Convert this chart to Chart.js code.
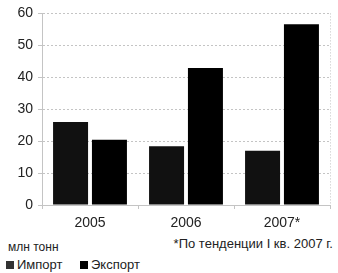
<!DOCTYPE html>
<html>
<head>
<meta charset="utf-8">
<script src="https://cdn.jsdelivr.net/npm/chart.js@4"></script>
<style>
  body { margin: 0; background: #fff; }
  #wrap { position: relative; width: 338px; height: 273px; font-family: "Liberation Sans Narrow", "Liberation Sans", Arial, sans-serif; color: #222; }
  #chart { position: absolute; left: 0; top: 0; }
  .t { position: absolute; white-space: nowrap; }
  .sq { display: inline-block; width: 8px; height: 8px; margin-right: 3px; vertical-align: 0px; }
</style>
</head>
<body>
<div id="wrap">
  <canvas id="chart" width="338" height="232"></canvas>
  <div class="t" style="left:8px; top:240px; font-size:12px;">млн тонн</div>
  <div class="t" style="right:5px; top:236px; font-size:13px;">*По тенденции I кв. 2007 г.</div>
  <div class="t" style="left:6px; top:257px; font-size:13px;"><span class="sq" style="background:#333"></span>Импорт</div>
  <div class="t" style="left:80px; top:257px; font-size:13px;"><span class="sq" style="background:#000"></span>Экспорт</div>
</div>
<script>
const years = ['2005', '2006', '2007*'];
const importVals = [26, 18.4, 17];
const exportVals = [20.4, 42.9, 56.6];
const yTicks = [0, 10, 20, 30, 40, 50, 60];

// dotted right edge of the plot area
const rightEdge = {
  id: 'rightEdge',
  afterDraw(chart) {
    const a = chart.chartArea, c = chart.ctx;
    c.save();
    c.strokeStyle = '#c4c4c4';
    c.setLineDash([1, 2]);
    c.beginPath();
    c.moveTo(a.right + 0.5, a.top);
    c.lineTo(a.right + 0.5, a.bottom);
    c.stroke();
    c.restore();
  }
};

new Chart(document.getElementById('chart').getContext('2d'), {
  type: 'bar',
  data: {
    labels: years,
    datasets: [
      { label: 'Импорт', data: importVals, backgroundColor: '#111' },
      { label: 'Экспорт', data: exportVals, backgroundColor: '#000' }
    ]
  },
  options: {
    responsive: false,
    animation: false,
    layout: { padding: { top: 10, right: 8, left: 0, bottom: 0 } },
    categoryPercentage: 0.81,
    barPercentage: 0.9,
    plugins: { legend: { display: false }, tooltip: { enabled: false } },
    scales: {
      x: {
        grid: { drawOnChartArea: false, drawTicks: true, tickLength: 4, color: '#c4c4c4' },
        border: { color: '#c4c4c4', dash: [1, 2] },
        ticks: { color: '#222', font: { family: '"Liberation Sans Narrow", "Liberation Sans", Arial', size: 14 }, padding: 6 },
        afterFit(s) { s.height = 27; }
      },
      y: {
        min: 0, max: 60,
        afterBuildTicks(s) { s.ticks = yTicks.map(v => ({ value: v })); },
        grid: { color: '#c4c4c4', tickLength: 4 },
        border: { color: '#c4c4c4', dash: [2, 2] },
        ticks: { color: '#222', font: { family: '"Liberation Sans Narrow", "Liberation Sans", Arial', size: 14 }, padding: 5 },
        afterFit(s) { s.width = 42; }
      }
    }
  },
  plugins: [rightEdge]
});
</script>
</body>
</html>
